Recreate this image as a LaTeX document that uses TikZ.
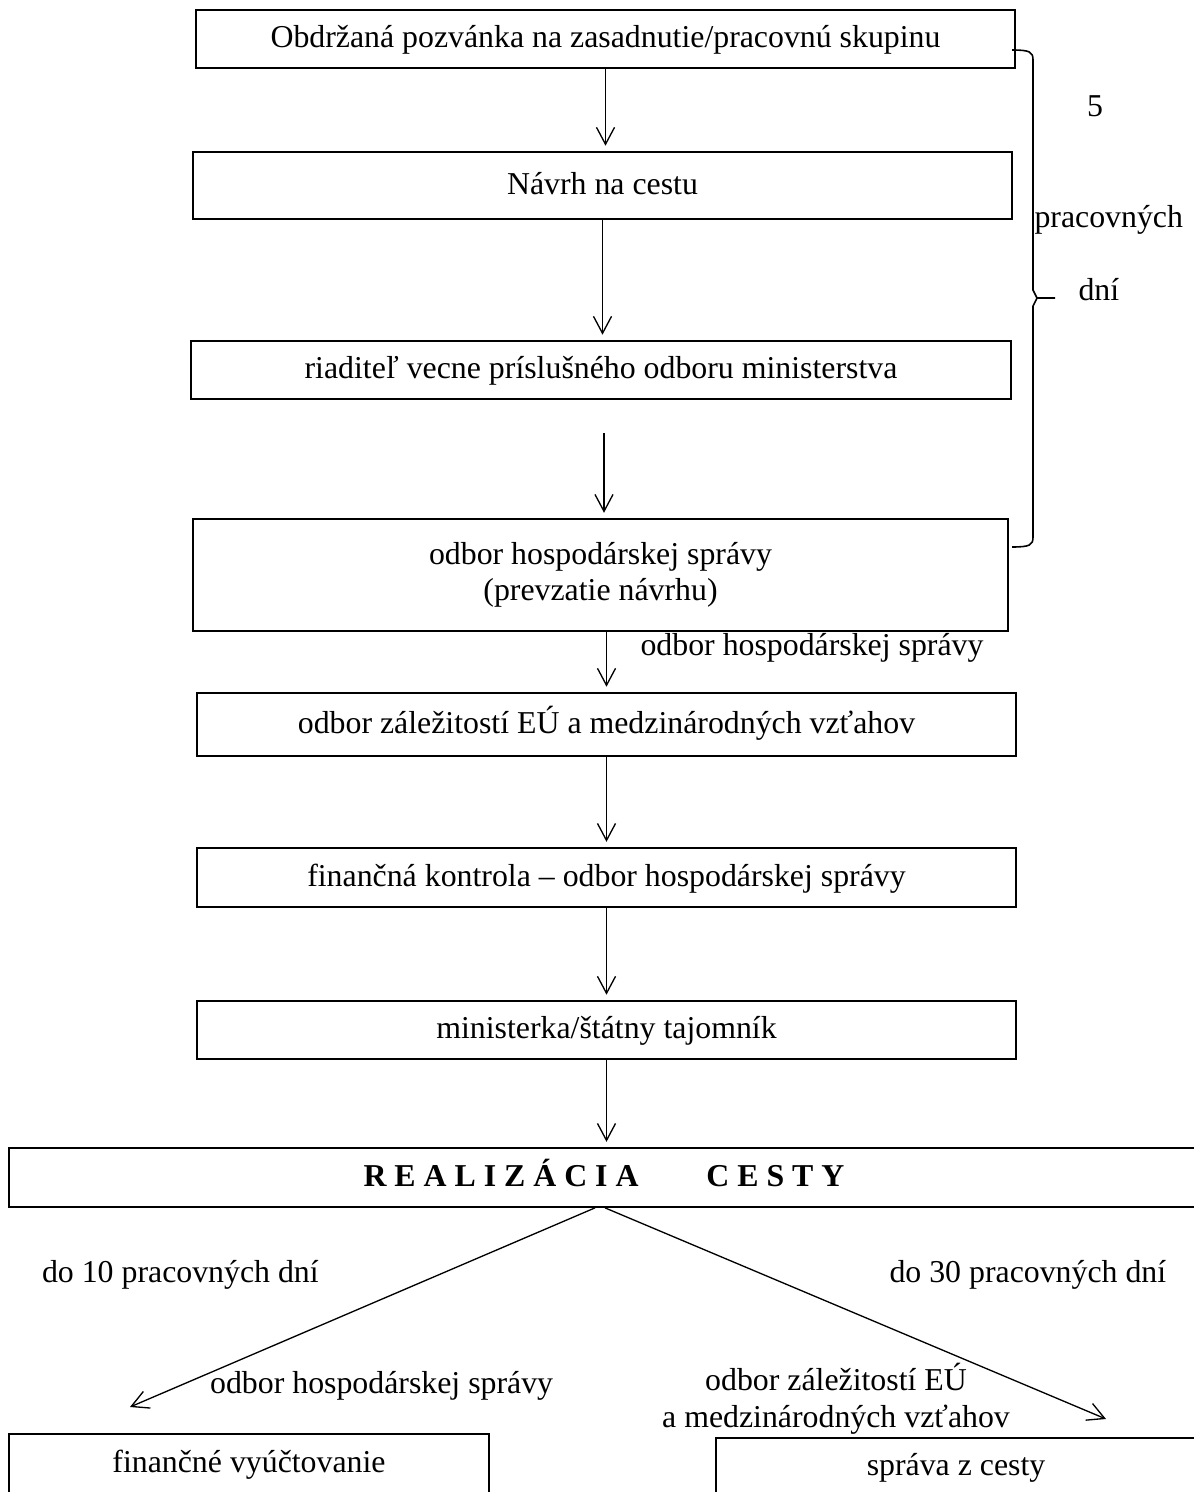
\documentclass[tikz,border=0pt]{standalone}
\usepackage{fontspec}
\setmainfont{Liberation Serif}
\usetikzlibrary{arrows.meta}

\begin{document}
\begin{tikzpicture}[x=0.377pt, y=-0.377pt, >={Straight Barb[length=6.4pt,width=6.8pt]},
    font=\fontsize{12}{13.8}\selectfont,
    krok/.style={draw=black, line width=0.7pt, inner sep=0pt},
    riadok/.style={krok, text height=1.65ex, text depth=.25ex},
    popis/.style={inner sep=0pt},
    sipka/.style={->, line width=0.5pt, shorten >=2pt}]
  \useasboundingbox (0,0) rectangle (1193,1492);

  \node [riadok, minimum width=308.8pt, minimum height=21.9pt, name=pozvanka] at (605.5,39)
    {Obdržaná pozvánka na zasadnutie/pracovnú skupinu};
  \node [riadok, minimum width=308.8pt, minimum height=25.3pt, name=navrh] at (602.5,185.5)
    {Návrh na cestu};
  \node [riadok, minimum width=309.1pt, minimum height=21.9pt, name=riaditel] at (601,370)
    {riaditeľ vecne príslušného odboru ministerstva};
  \node [krok, align=center, minimum width=307.3pt, minimum height=42.2pt, name=hosp] at (600.5,575)
    {odbor hospodárskej správy\\(prevzatie návrhu)};
  \node [riadok, minimum width=308.8pt, minimum height=23.8pt, name=zahr] at (606.5,724.5)
    {odbor záležitostí EÚ a medzinárodných vzťahov};
  \node [riadok, minimum width=308.8pt, minimum height=22.2pt, name=kontrola] at (606.5,877.5)
    {finančná kontrola – odbor hospodárskej správy};
  \node [riadok, minimum width=308.8pt, minimum height=21.9pt, name=ministerka] at (606.5,1030)
    {ministerka/štátny tajomník};
  \node [riadok, minimum width=448.6pt, minimum height=22.2pt, name=realizacia] at (604,1177.5)
    {\textbf{R E A L I Z Á C I A\hspace{25.6pt}C E S T Y}};
  \node [riadok, minimum width=181pt, minimum height=22.6pt, name=vyuctovanie] at (249,1464)
    {finančné vyúčtovanie};
  \node [riadok, minimum width=181pt, minimum height=21.9pt, name=sprava] at (956,1467)
    {správa z cesty};

  % popisky
  \node [popis, anchor=base west, name=lhosp] at (640,655) {odbor hospodárskej správy};
  \node [popis, anchor=base, name=lpat] at (1095,117) {5};
  \node [popis, anchor=base west, name=lprac] at (1034,227) {pracovných};
  \node [popis, anchor=base west, name=ldni] at (1078,300) {dní};
  \node [popis, anchor=base west, name=ldesat] at (41.5,1282) {do 10 pracovných dní};
  \node [popis, anchor=base west, name=ltridsat] at (889,1282) {do 30 pracovných dní};
  \node [popis, anchor=base west, name=lhosp2] at (209.6,1393) {odbor hospodárskej správy};
  \node [popis, align=center, anchor=base, name=lzahr] at (836,1427)
    {odbor záležitostí EÚ\\a medzinárodných vzťahov};

  \coordinate (c3) at (604,433);
  \coordinate (hrotl) at (130,1407);
  \coordinate (hrotp) at (1106,1419);
  \coordinate (zhore) at (1012,50);
  \coordinate (zhrot) at (1055,298);
  \coordinate (zdola) at (1012,547);

  \draw [sipka] (pozvanka) -- (pozvanka |- navrh.north);
  \draw [sipka] (navrh) -- (navrh |- riaditel.north);
  \draw [sipka] (c3) -- (c3 |- hosp.north);
  \draw [sipka] (zahr.north |- hosp.south) -- (zahr.north);
  \draw [sipka] (zahr) -- (zahr |- kontrola.north);
  \draw [sipka] (kontrola) -- (kontrola |- ministerka.north);
  \draw [sipka] (ministerka) -- (ministerka |- realizacia.north);
  \draw [sipka, shorten >=0pt] ([xshift=-3.4pt]realizacia.south) -- (hrotl);
  \draw [sipka, shorten >=0pt] ([xshift=0.4pt]realizacia.south) -- (hrotp);

  % zatvorka
  \draw [line width=0.6pt] (zhore) .. controls (1030,50) and (1033,52) .. (1033,60) -- (1033,290)
    -- (1037,298) -- (zhrot) (1037,298) -- (1033,306) -- (1033,537)
    .. controls (1033,545) and (1030,547) .. (zdola);
\end{tikzpicture}
\end{document}
